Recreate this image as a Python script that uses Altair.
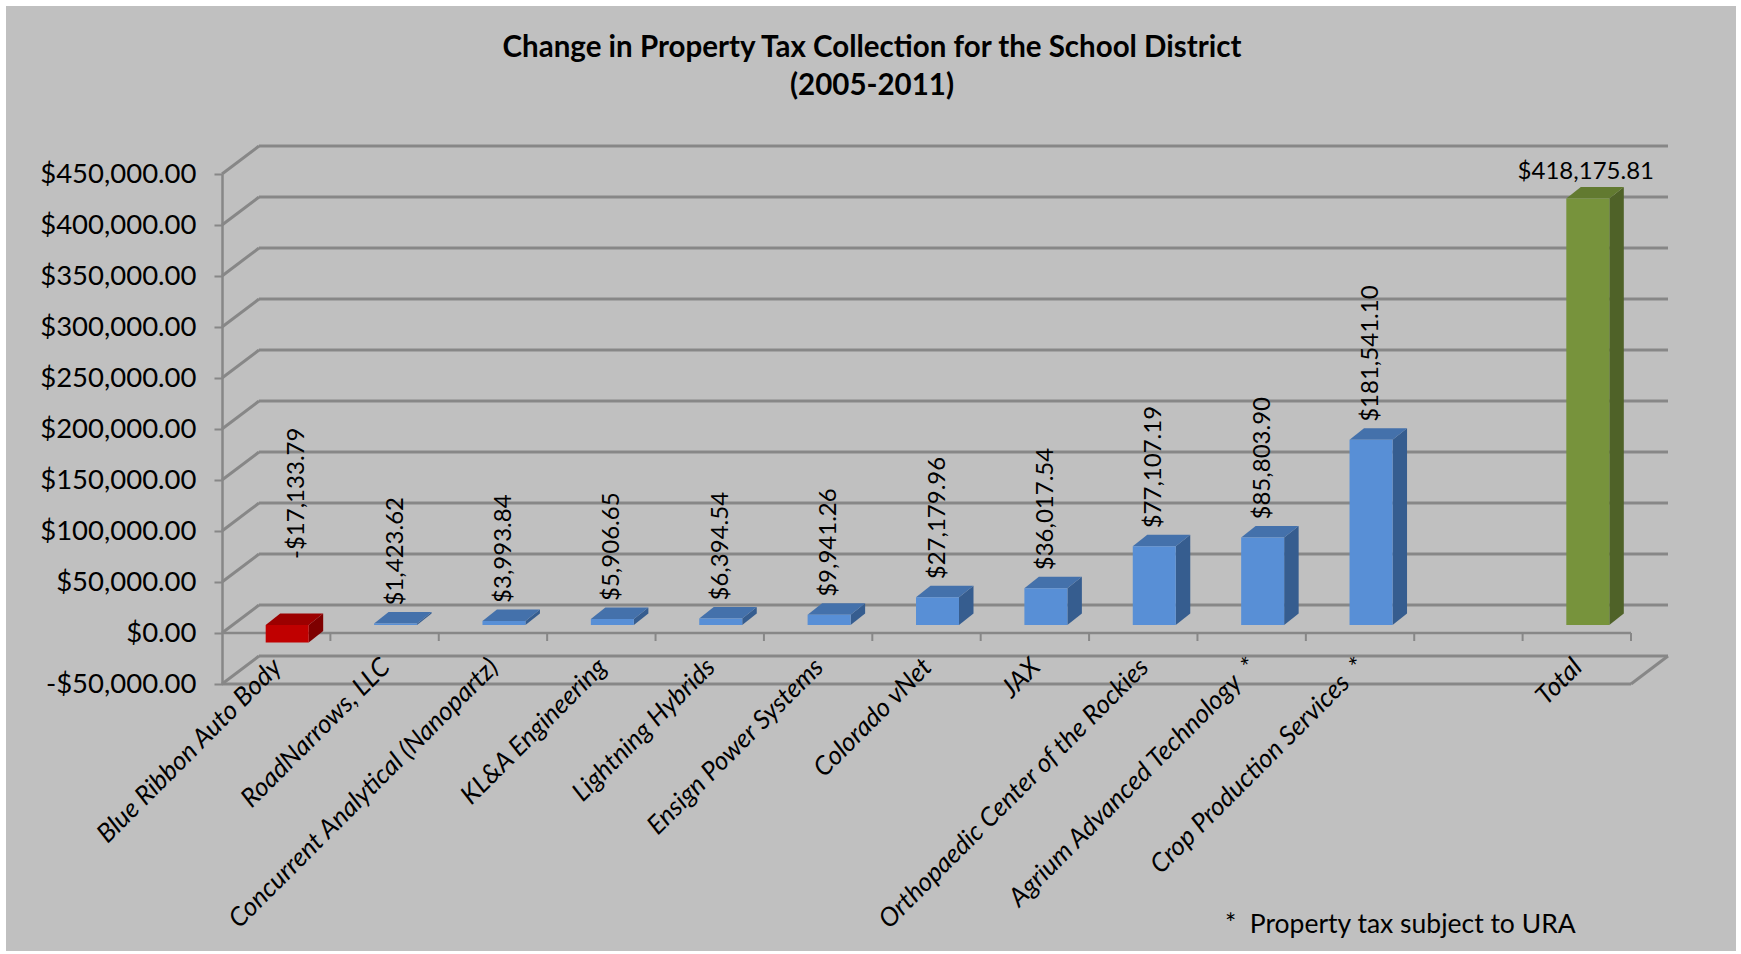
import altair as alt
import pandas as pd

# ---------------- data ----------------
NB = "\u00a0"
companies = [
    "Blue Ribbon Auto Body",
    "RoadNarrows, LLC",
    "Concurrent Analytical (Nanopartz)",
    "KL&A Engineering",
    "Lightning Hybrids",
    "Ensign Power Systems",
    "Colorado vNet",
    "JAX",
    "Orthopaedic Center of the Rockies",
    "Agrium Advanced Technology" + NB * 2 + "*",
    "Crop Production Services" + NB * 2 + "*",
]
changes = [-17133.79, 1423.62, 3993.84, 5906.65, 6394.54, 9941.26,
           27179.96, 36017.54, 77107.19, 85803.90, 181541.10]
total_name = "Total"
total_value = 418175.81
y_ticks = [-50000, 0, 50000, 100000, 150000, 200000, 250000, 300000, 350000, 400000, 450000]
title_lines = ["Change in Property Tax Collection for the School District", "(2005-2011)"]
footnote = "*" + NB * 2 + "Property tax subject to URA"

# ---------------- styling / geometry constants ----------------
W, H = 1409, 510
N_SLOTS = 13
Y_MIN, Y_MAX = -50000, 450000
PAD = {"left": 222, "top": 174, "right": 110, "bottom": 270}
SLOT_PX = W / N_SLOTS
UNIT_PX = H / (Y_MAX - Y_MIN)
BAR_W_PX = 43
BAR_SHIFT_X = 11
BAR_SHIFT_Y = -8
DEPTH_X_PX = 14.5
DEPTH_Y_PX = 11.5
WALL_X = 37
WALL_Y = -28
GRID = "#878787"
BG = "#c0c0c0"
FONT = "Lato"
PALETTE = {
    "neg": {"front": "#c00000", "top": "#9c0000", "side": "#7e0000"},
    "pos": {"front": "#588fd6", "top": "#4471ab", "side": "#365d8f"},
    "total": {"front": "#77933c", "top": "#627a30", "side": "#4f6228"},
}

# ---------------- tables built from the arrays ----------------
names = companies + [total_name]
values = changes + [total_value]
slots = list(range(len(companies))) + [N_SLOTS - 1]

def money(v):
    return ("-" if v < 0 else "") + "${:,.2f}".format(abs(v))

rows = []
for n, v, s in zip(names, values, slots):
    kind = "total" if n == total_name else ("neg" if v < 0 else "pos")
    xc = s + 0.5
    hw = BAR_W_PX / 2 / SLOT_PX
    rows.append(dict(name=n, value=v, slot=s, kind=kind, xc=xc, xl=xc - hw, xr=xc + hw,
                     top=max(v, 0), bot=min(v, 0), label=money(v),
                     front=PALETTE[kind]["front"], topc=PALETTE[kind]["top"],
                     side=PALETTE[kind]["side"]))
bars = pd.DataFrame(rows)

dX = DEPTH_X_PX / SLOT_PX
dY = DEPTH_Y_PX / UNIT_PX
side_rows, top_rows = [], []
for r in rows:
    side_rows.append(dict(name=r["name"], x=r["xr"], y=r["top"], y2=r["bot"], c=r["side"]))
    side_rows.append(dict(name=r["name"], x=r["xr"] + dX, y=r["top"] + dY, y2=r["bot"] + dY, c=r["side"]))
    top_rows.append(dict(name=r["name"], y=r["top"], x=r["xl"], x2=r["xr"], c=r["topc"]))
    top_rows.append(dict(name=r["name"], y=r["top"] + dY, x=r["xl"] + dX, x2=r["xr"] + dX, c=r["topc"]))
side_df = pd.DataFrame(side_rows)
top_df = pd.DataFrame(top_rows)

grid_df = pd.DataFrame({"t": y_ticks})
bound_df = pd.DataFrame({"b": list(range(1, N_SLOTS + 1))})
one = pd.DataFrame({"k": [0]})

xs = alt.Scale(domain=[0, N_SLOTS], nice=False, zero=False)
ys = alt.Scale(domain=[Y_MIN, Y_MAX], nice=False, zero=False)
YAX = alt.Axis(
    values=y_ticks, title=None, grid=False, domainColor=GRID, domainWidth=2.5,
    tickColor=GRID, tickWidth=2, tickSize=8, labelPadding=18, zindex=2,
    labelFont=FONT, labelFontSize=27.5, labelColor="#000000",
    labelExpr="(datum.value < 0 ? '-' : '') + format(abs(datum.value), '$,.2f')")

def X(f, **kw):
    return alt.X(f, scale=xs, axis=None, **kw)

def Y(f, **kw):
    return alt.Y(f, scale=ys, axis=YAX, **kw)

def XD(v):
    return alt.X(datum=v, scale=xs, axis=None)

def YD(v):
    return alt.Y(datum=v, scale=ys, axis=YAX)

# background panel
panel = alt.Chart(one).mark_rect(color=BG).encode(
    x=alt.value(-PAD["left"] + 6), x2=alt.value(W + PAD["right"] - 5),
    y=alt.value(-PAD["top"] + 6), y2=alt.value(H + PAD["bottom"] - 3))

# back wall gridlines
back_grid = alt.Chart(grid_df).mark_rule(
    color=GRID, strokeWidth=3, xOffset=WALL_X, x2Offset=WALL_X, yOffset=WALL_Y, y2Offset=WALL_Y
).encode(x=X("x0:Q"), x2="x1:Q", y=Y("t:Q")).transform_calculate(x0="0", x1=str(N_SLOTS))

# left wall diagonals
diag = alt.Chart(grid_df).mark_rule(
    color=GRID, strokeWidth=3, x2Offset=WALL_X, y2Offset=WALL_Y
).encode(x=X("x0:Q"), x2="x0:Q", y=Y("t:Q"), y2="t:Q").transform_calculate(x0="0")

# floor front edge and right diagonal
floor_front = alt.Chart(one).mark_rule(color=GRID, strokeWidth=3).encode(
    x=XD(0), x2=alt.X2(datum=N_SLOTS), y=YD(Y_MIN))
floor_right = alt.Chart(one).mark_rule(color=GRID, strokeWidth=3, x2Offset=WALL_X, y2Offset=WALL_Y).encode(
    x=XD(N_SLOTS), x2=alt.X2(datum=N_SLOTS), y=YD(Y_MIN), y2=alt.Y2(datum=Y_MIN))

# category axis line at zero with ticks
zero_line = alt.Chart(one).mark_rule(color=GRID, strokeWidth=2.5).encode(
    x=XD(0), x2=alt.X2(datum=N_SLOTS), y=YD(0))
zero_ticks = alt.Chart(bound_df).mark_rule(color=GRID, strokeWidth=2, y2Offset=8).encode(
    x=X("b:Q"), y=YD(0), y2=alt.Y2(datum=0))

# bars: front, side, top faces
front = alt.Chart(bars).mark_rect(
    xOffset=BAR_SHIFT_X, x2Offset=BAR_SHIFT_X, yOffset=BAR_SHIFT_Y, y2Offset=BAR_SHIFT_Y
).encode(x=X("xl:Q"), x2="xr:Q", y=Y("top:Q"), y2="bot:Q",
         color=alt.Color("front:N", scale=None))
side = alt.Chart(side_df).mark_area(
    orient="vertical", xOffset=BAR_SHIFT_X, yOffset=BAR_SHIFT_Y, y2Offset=BAR_SHIFT_Y
).encode(x=X("x:Q"), y=Y("y:Q"), y2="y2:Q", detail="name:N",
         color=alt.Color("c:N", scale=None))
topf = alt.Chart(top_df).mark_area(
    orient="horizontal", xOffset=BAR_SHIFT_X, x2Offset=BAR_SHIFT_X, yOffset=BAR_SHIFT_Y
).encode(y=Y("y:Q"), x=X("x:Q"), x2="x2:Q", detail="name:N",
         color=alt.Color("c:N", scale=None))

# category labels
cat_labels = alt.Chart(bars).mark_text(
    angle=315, align="right", baseline="top", font=FONT, fontStyle="italic",
    fontSize=26, color="#000000", xOffset=-8, yOffset=-30
).encode(x=X("xc:Q"), y=YD(Y_MIN), text="name:N")

# value labels
lab_pos = alt.Chart(bars).mark_text(
    angle=270, align="left", baseline="middle", font=FONT, fontSize=24, color="#000000",
    xOffset=BAR_SHIFT_X, yOffset=BAR_SHIFT_Y - 18
).encode(x=X("xc:Q"), y=Y("top:Q"), text="label:N").transform_filter("datum.kind == 'pos'")
lab_neg = alt.Chart(bars).mark_text(
    angle=270, align="left", baseline="middle", font=FONT, fontSize=24, color="#000000",
    xOffset=BAR_SHIFT_X + 10, yOffset=-74
).encode(x=X("xc:Q"), y=Y("top:Q"), text="label:N").transform_filter("datum.kind == 'neg'")
lab_tot = alt.Chart(bars).mark_text(
    align="center", baseline="middle", font=FONT, fontSize=24, color="#000000",
    xOffset=BAR_SHIFT_X - 2, yOffset=BAR_SHIFT_Y - 26
).encode(x=X("xc:Q"), y=Y("top:Q"), text="label:N").transform_filter("datum.kind == 'total'")

# title and footnote
title1 = alt.Chart(one).mark_text(
    text=title_lines[0], font=FONT, fontWeight="bold", fontSize=29.5, align="center",
    baseline="alphabetic", color="#000000"
).encode(x=alt.value(872 - PAD["left"]), y=alt.value(57 - PAD["top"]))
title2 = alt.Chart(one).mark_text(
    text=title_lines[1], font=FONT, fontWeight="bold", fontSize=29.5, align="center",
    baseline="alphabetic", color="#000000"
).encode(x=alt.value(872 - PAD["left"]), y=alt.value(95 - PAD["top"]))
foot = alt.Chart(one).mark_text(
    text=footnote, font=FONT, fontSize=26.5, align="left", baseline="alphabetic", color="#000000"
).encode(x=alt.value(1225 - PAD["left"]), y=alt.value(933 - PAD["top"]))

chart = alt.layer(
    panel, back_grid, diag, floor_front, floor_right, zero_line, zero_ticks,
    side, topf, front, cat_labels, lab_pos, lab_neg, lab_tot, title1, title2, foot
).properties(
    width=W, height=H, padding=PAD, autosize=alt.AutoSizeParams(type="none"),
    background="#ffffff"
).configure_view(strokeWidth=0)

chart.save("out.html", embed_options={"renderer": "svg", "actions": False})
